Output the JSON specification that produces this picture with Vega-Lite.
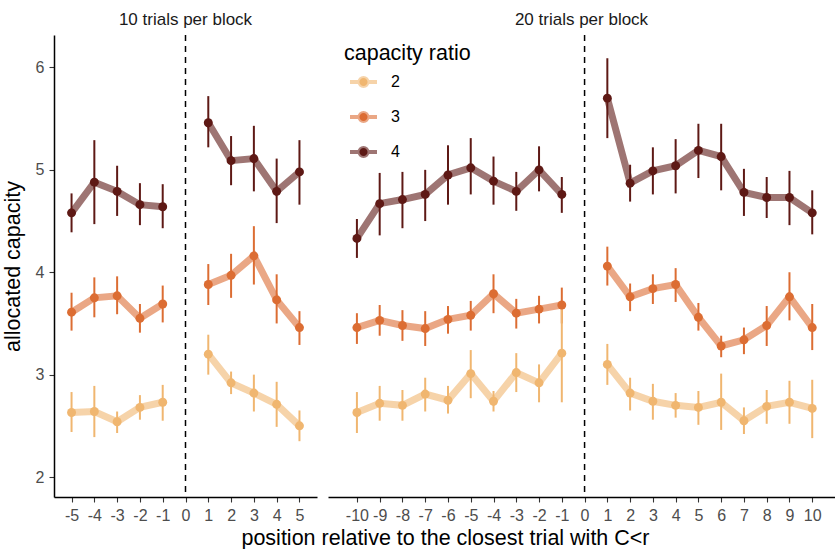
{
  "$schema": "https://vega.github.io/schema/vega-lite/v6.json",
  "padding": {"left": 2, "top": 11, "right": 0, "bottom": 0},
  "bounds": "flush",
  "spacing": 11,
  "background": "white",
  "config": {
    "view": {"stroke": null},
    "font": "Liberation Sans",
    "axis": {"domainColor": "black", "domainWidth": 1.5, "tickColor": "#333333", "tickWidth": 1.1, "tickSize": 5, "labelFontSize": 16, "labelColor": "#4D4D4D", "labelPadding": 5, "grid": false, "titleFontWeight": "normal", "titleColor": "black", "titleFontSize": 21.5, "labelOverlap": false, "labelFlush": false, "labelExpr": "'' + datum.value"},
    "title": {"fontSize": 17, "fontWeight": "normal", "color": "#1A1A1A", "offset": 5, "anchor": "middle"}
  },
  "resolve": {"legend": {"color": "independent"}},
  "datasets": {
    "p10": [
      {"x": -5, "r": "4", "s": "a", "m": 4.58, "lo": 4.39, "hi": 4.77},
      {"x": -4, "r": "4", "s": "a", "m": 4.88, "lo": 4.47, "hi": 5.29},
      {"x": -3, "r": "4", "s": "a", "m": 4.79, "lo": 4.55, "hi": 5.04},
      {"x": -2, "r": "4", "s": "a", "m": 4.66, "lo": 4.46, "hi": 4.87},
      {"x": -1, "r": "4", "s": "a", "m": 4.64, "lo": 4.43, "hi": 4.86},
      {"x": 1, "r": "4", "s": "b", "m": 5.46, "lo": 5.22, "hi": 5.72},
      {"x": 2, "r": "4", "s": "b", "m": 5.09, "lo": 4.85, "hi": 5.33},
      {"x": 3, "r": "4", "s": "b", "m": 5.11, "lo": 4.79, "hi": 5.43},
      {"x": 4, "r": "4", "s": "b", "m": 4.79, "lo": 4.48, "hi": 5.11},
      {"x": 5, "r": "4", "s": "b", "m": 4.98, "lo": 4.66, "hi": 5.29},
      {"x": -5, "r": "3", "s": "a", "m": 3.61, "lo": 3.43, "hi": 3.80},
      {"x": -4, "r": "3", "s": "a", "m": 3.75, "lo": 3.56, "hi": 3.95},
      {"x": -3, "r": "3", "s": "a", "m": 3.77, "lo": 3.59, "hi": 3.96},
      {"x": -2, "r": "3", "s": "a", "m": 3.55, "lo": 3.41, "hi": 3.69},
      {"x": -1, "r": "3", "s": "a", "m": 3.69, "lo": 3.51, "hi": 3.87},
      {"x": 1, "r": "3", "s": "b", "m": 3.88, "lo": 3.68, "hi": 4.08},
      {"x": 2, "r": "3", "s": "b", "m": 3.97, "lo": 3.75, "hi": 4.18},
      {"x": 3, "r": "3", "s": "b", "m": 4.16, "lo": 3.88, "hi": 4.45},
      {"x": 4, "r": "3", "s": "b", "m": 3.73, "lo": 3.50, "hi": 3.98},
      {"x": 5, "r": "3", "s": "b", "m": 3.46, "lo": 3.29, "hi": 3.62},
      {"x": -5, "r": "2", "s": "a", "m": 2.63, "lo": 2.44, "hi": 2.83},
      {"x": -4, "r": "2", "s": "a", "m": 2.64, "lo": 2.39, "hi": 2.89},
      {"x": -3, "r": "2", "s": "a", "m": 2.54, "lo": 2.43, "hi": 2.64},
      {"x": -2, "r": "2", "s": "a", "m": 2.68, "lo": 2.56, "hi": 2.80},
      {"x": -1, "r": "2", "s": "a", "m": 2.73, "lo": 2.55, "hi": 2.90},
      {"x": 1, "r": "2", "s": "b", "m": 3.20, "lo": 3.00, "hi": 3.39},
      {"x": 2, "r": "2", "s": "b", "m": 2.92, "lo": 2.81, "hi": 3.03},
      {"x": 3, "r": "2", "s": "b", "m": 2.82, "lo": 2.64, "hi": 3.00},
      {"x": 4, "r": "2", "s": "b", "m": 2.71, "lo": 2.49, "hi": 2.93},
      {"x": 5, "r": "2", "s": "b", "m": 2.50, "lo": 2.35, "hi": 2.65}
    ],
    "p20": [
      {"x": -10, "r": "4", "s": "a", "m": 4.33, "lo": 4.14, "hi": 4.52},
      {"x": -9, "r": "4", "s": "a", "m": 4.67, "lo": 4.36, "hi": 4.97},
      {"x": -8, "r": "4", "s": "a", "m": 4.71, "lo": 4.43, "hi": 4.98},
      {"x": -7, "r": "4", "s": "a", "m": 4.76, "lo": 4.50, "hi": 5.00},
      {"x": -6, "r": "4", "s": "a", "m": 4.95, "lo": 4.66, "hi": 5.24},
      {"x": -5, "r": "4", "s": "a", "m": 5.02, "lo": 4.76, "hi": 5.31},
      {"x": -4, "r": "4", "s": "a", "m": 4.89, "lo": 4.66, "hi": 5.13},
      {"x": -3, "r": "4", "s": "a", "m": 4.79, "lo": 4.60, "hi": 4.98},
      {"x": -2, "r": "4", "s": "a", "m": 5.00, "lo": 4.79, "hi": 5.23},
      {"x": -1, "r": "4", "s": "a", "m": 4.76, "lo": 4.58, "hi": 4.93},
      {"x": 1, "r": "4", "s": "b", "m": 5.70, "lo": 5.31, "hi": 6.09},
      {"x": 2, "r": "4", "s": "b", "m": 4.87, "lo": 4.69, "hi": 5.05},
      {"x": 3, "r": "4", "s": "b", "m": 4.99, "lo": 4.76, "hi": 5.22},
      {"x": 4, "r": "4", "s": "b", "m": 5.04, "lo": 4.77, "hi": 5.30},
      {"x": 5, "r": "4", "s": "b", "m": 5.19, "lo": 4.92, "hi": 5.45},
      {"x": 6, "r": "4", "s": "b", "m": 5.13, "lo": 4.80, "hi": 5.45},
      {"x": 7, "r": "4", "s": "b", "m": 4.78, "lo": 4.55, "hi": 5.01},
      {"x": 8, "r": "4", "s": "b", "m": 4.73, "lo": 4.53, "hi": 4.93},
      {"x": 9, "r": "4", "s": "b", "m": 4.73, "lo": 4.46, "hi": 4.99},
      {"x": 10, "r": "4", "s": "b", "m": 4.58, "lo": 4.37, "hi": 4.80},
      {"x": -10, "r": "3", "s": "a", "m": 3.46, "lo": 3.30, "hi": 3.60},
      {"x": -9, "r": "3", "s": "a", "m": 3.53, "lo": 3.38, "hi": 3.68},
      {"x": -8, "r": "3", "s": "a", "m": 3.48, "lo": 3.33, "hi": 3.63},
      {"x": -7, "r": "3", "s": "a", "m": 3.45, "lo": 3.28, "hi": 3.62},
      {"x": -6, "r": "3", "s": "a", "m": 3.54, "lo": 3.40, "hi": 3.67},
      {"x": -5, "r": "3", "s": "a", "m": 3.58, "lo": 3.43, "hi": 3.72},
      {"x": -4, "r": "3", "s": "a", "m": 3.79, "lo": 3.60, "hi": 3.98},
      {"x": -3, "r": "3", "s": "a", "m": 3.60, "lo": 3.45, "hi": 3.74},
      {"x": -2, "r": "3", "s": "a", "m": 3.64, "lo": 3.50, "hi": 3.77},
      {"x": -1, "r": "3", "s": "a", "m": 3.68, "lo": 3.50, "hi": 3.85},
      {"x": 1, "r": "3", "s": "b", "m": 4.06, "lo": 3.87, "hi": 4.25},
      {"x": 2, "r": "3", "s": "b", "m": 3.76, "lo": 3.62, "hi": 3.89},
      {"x": 3, "r": "3", "s": "b", "m": 3.84, "lo": 3.69, "hi": 3.98},
      {"x": 4, "r": "3", "s": "b", "m": 3.88, "lo": 3.71, "hi": 4.04},
      {"x": 5, "r": "3", "s": "b", "m": 3.56, "lo": 3.43, "hi": 3.70},
      {"x": 6, "r": "3", "s": "b", "m": 3.28, "lo": 3.17, "hi": 3.38},
      {"x": 7, "r": "3", "s": "b", "m": 3.34, "lo": 3.20, "hi": 3.46},
      {"x": 8, "r": "3", "s": "b", "m": 3.48, "lo": 3.28, "hi": 3.67},
      {"x": 9, "r": "3", "s": "b", "m": 3.76, "lo": 3.53, "hi": 4.00},
      {"x": 10, "r": "3", "s": "b", "m": 3.46, "lo": 3.24, "hi": 3.69},
      {"x": -10, "r": "2", "s": "a", "m": 2.63, "lo": 2.43, "hi": 2.83},
      {"x": -9, "r": "2", "s": "a", "m": 2.72, "lo": 2.55, "hi": 2.89},
      {"x": -8, "r": "2", "s": "a", "m": 2.70, "lo": 2.55, "hi": 2.85},
      {"x": -7, "r": "2", "s": "a", "m": 2.81, "lo": 2.64, "hi": 2.97},
      {"x": -6, "r": "2", "s": "a", "m": 2.75, "lo": 2.62, "hi": 2.89},
      {"x": -5, "r": "2", "s": "a", "m": 3.01, "lo": 2.77, "hi": 3.24},
      {"x": -4, "r": "2", "s": "a", "m": 2.74, "lo": 2.64, "hi": 2.84},
      {"x": -3, "r": "2", "s": "a", "m": 3.02, "lo": 2.83, "hi": 3.21},
      {"x": -2, "r": "2", "s": "a", "m": 2.92, "lo": 2.73, "hi": 3.10},
      {"x": -1, "r": "2", "s": "a", "m": 3.21, "lo": 2.73, "hi": 3.65},
      {"x": 1, "r": "2", "s": "b", "m": 3.10, "lo": 2.90, "hi": 3.30},
      {"x": 2, "r": "2", "s": "b", "m": 2.82, "lo": 2.65, "hi": 2.97},
      {"x": 3, "r": "2", "s": "b", "m": 2.74, "lo": 2.56, "hi": 2.91},
      {"x": 4, "r": "2", "s": "b", "m": 2.70, "lo": 2.58, "hi": 2.82},
      {"x": 5, "r": "2", "s": "b", "m": 2.68, "lo": 2.51, "hi": 2.84},
      {"x": 6, "r": "2", "s": "b", "m": 2.73, "lo": 2.46, "hi": 3.01},
      {"x": 7, "r": "2", "s": "b", "m": 2.55, "lo": 2.42, "hi": 2.68},
      {"x": 8, "r": "2", "s": "b", "m": 2.69, "lo": 2.52, "hi": 2.85},
      {"x": 9, "r": "2", "s": "b", "m": 2.73, "lo": 2.52, "hi": 2.94},
      {"x": 10, "r": "2", "s": "b", "m": 2.67, "lo": 2.38, "hi": 2.95}
    ]
  },
  "hconcat": [
    {
      "width": 263,
      "height": 462,
      "title": {"text": "10 trials per block"},
      "layer": [
        {
          "data": {"values": [{"x": 0}]},
          "mark": {"type": "rule", "strokeDash": [6, 5], "strokeWidth": 1.5, "color": "black"},
          "encoding": {
            "x": {"field": "x", "type": "quantitative", "scale": {"domain": [-5.77, 5.77], "nice": false, "zero": false}, "axis": {"values": [-5, -4, -3, -2, -1, 0, 1, 2, 3, 4, 5], "title": null}}
          }
        },
        {
          "data": {"name": "p10"},
          "mark": {"type": "line", "strokeWidth": 7, "opacity": 0.6},
          "encoding": {
            "x": {"field": "x", "type": "quantitative", "scale": {"domain": [-5.77, 5.77], "nice": false, "zero": false}, "axis": {"values": [-5, -4, -3, -2, -1, 0, 1, 2, 3, 4, 5], "title": null}},
            "y": {"field": "m", "type": "quantitative", "scale": {"domain": [1.805, 6.317], "nice": false, "zero": false}, "axis": {"values": [2, 3, 4, 5, 6], "title": "allocated capacity", "titlePadding": 11}},
            "color": {"field": "r", "type": "nominal", "scale": {"domain": ["2", "3", "4"], "range": ["#F0B670", "#DC6D33", "#5E1915"]}, "legend": null},
            "detail": {"field": "s"}
          }
        },
        {
          "data": {"name": "p10"},
          "mark": {"type": "rule", "strokeWidth": 2},
          "encoding": {
            "x": {"field": "x", "type": "quantitative", "scale": {"domain": [-5.77, 5.77], "nice": false, "zero": false}, "axis": {"values": [-5, -4, -3, -2, -1, 0, 1, 2, 3, 4, 5], "title": null}},
            "y": {"field": "lo", "type": "quantitative", "scale": {"domain": [1.805, 6.317], "nice": false, "zero": false}, "axis": {"values": [2, 3, 4, 5, 6], "title": "allocated capacity", "titlePadding": 11}},
            "y2": {"field": "hi"},
            "color": {"field": "r", "type": "nominal", "scale": {"domain": ["2", "3", "4"], "range": ["#F0B670", "#DC6D33", "#5E1915"]}, "legend": null}
          }
        },
        {
          "data": {"name": "p10"},
          "mark": {"type": "point", "filled": true, "opacity": 1, "size": 80},
          "encoding": {
            "x": {"field": "x", "type": "quantitative", "scale": {"domain": [-5.77, 5.77], "nice": false, "zero": false}, "axis": {"values": [-5, -4, -3, -2, -1, 0, 1, 2, 3, 4, 5], "title": null}},
            "y": {"field": "m", "type": "quantitative", "scale": {"domain": [1.805, 6.317], "nice": false, "zero": false}, "axis": {"values": [2, 3, 4, 5, 6], "title": "allocated capacity", "titlePadding": 11}},
            "color": {"field": "r", "type": "nominal", "scale": {"domain": ["2", "3", "4"], "range": ["#F0B670", "#DC6D33", "#5E1915"]}, "legend": null}
          }
        }
      ]
    },
    {
      "width": 507,
      "height": 462,
      "title": {"text": "20 trials per block"},
      "layer": [
        {
          "data": {"values": [{"x": 0}]},
          "mark": {"type": "rule", "strokeDash": [6, 5], "strokeWidth": 1.5, "color": "black"},
          "encoding": {
            "x": {"field": "x", "type": "quantitative", "scale": {"domain": [-11.27, 11.0], "nice": false, "zero": false}, "axis": {"values": [-10, -9, -8, -7, -6, -5, -4, -3, -2, -1, 0, 1, 2, 3, 4, 5, 6, 7, 8, 9, 10], "title": "position relative to the closest trial with C<r", "titleX": 117, "titleY": 41, "titleBaseline": "middle", "titleAlign": "center"}}
          }
        },
        {
          "data": {"name": "p20"},
          "mark": {"type": "line", "strokeWidth": 7, "opacity": 0.6},
          "encoding": {
            "x": {"field": "x", "type": "quantitative", "scale": {"domain": [-11.27, 11.0], "nice": false, "zero": false}, "axis": {"values": [-10, -9, -8, -7, -6, -5, -4, -3, -2, -1, 0, 1, 2, 3, 4, 5, 6, 7, 8, 9, 10], "title": "position relative to the closest trial with C<r", "titleX": 117, "titleY": 41, "titleBaseline": "middle", "titleAlign": "center"}},
            "y": {"field": "m", "type": "quantitative", "scale": {"domain": [1.805, 6.317], "nice": false, "zero": false}, "axis": null},
            "color": {"field": "r", "type": "nominal", "scale": {"domain": ["2", "3", "4"], "range": ["#F0B670", "#DC6D33", "#5E1915"]},
              "legend": {"title": "capacity ratio", "orient": "none", "legendX": 16, "legendY": 8, "padding": 0, "titleFontSize": 21.5, "titleFontWeight": "normal", "titleColor": "black", "titlePadding": 2, "labelFontSize": 16, "labelColor": "black", "labelOffset": 12, "symbolOffset": 4, "symbolType": "M-1,0H1M0.3,0A0.3,0.3,0,1,1,-0.3,0A0.3,0.3,0,1,1,0.3,0", "symbolSize": 729, "symbolStrokeWidth": 4, "rowPadding": 7,
                "encode": {"symbols": {"update": {"fill": {"scale": "color", "field": "value"}, "stroke": {"scale": "color", "field": "value"}, "strokeOpacity": {"value": 0.6}, "fillOpacity": {"value": 1}, "opacity": {"value": 1}}}}}},
            "detail": {"field": "s"}
          }
        },
        {
          "data": {"name": "p20"},
          "mark": {"type": "rule", "strokeWidth": 2},
          "encoding": {
            "x": {"field": "x", "type": "quantitative", "scale": {"domain": [-11.27, 11.0], "nice": false, "zero": false}, "axis": {"values": [-10, -9, -8, -7, -6, -5, -4, -3, -2, -1, 0, 1, 2, 3, 4, 5, 6, 7, 8, 9, 10], "title": "position relative to the closest trial with C<r", "titleX": 117, "titleY": 41, "titleBaseline": "middle", "titleAlign": "center"}},
            "y": {"field": "lo", "type": "quantitative", "scale": {"domain": [1.805, 6.317], "nice": false, "zero": false}, "axis": null},
            "y2": {"field": "hi"},
            "color": {"field": "r", "type": "nominal", "scale": {"domain": ["2", "3", "4"], "range": ["#F0B670", "#DC6D33", "#5E1915"]},
              "legend": {"title": "capacity ratio", "orient": "none", "legendX": 16, "legendY": 8, "padding": 0, "titleFontSize": 21.5, "titleFontWeight": "normal", "titleColor": "black", "titlePadding": 2, "labelFontSize": 16, "labelColor": "black", "labelOffset": 12, "symbolOffset": 4, "symbolType": "M-1,0H1M0.3,0A0.3,0.3,0,1,1,-0.3,0A0.3,0.3,0,1,1,0.3,0", "symbolSize": 729, "symbolStrokeWidth": 4, "rowPadding": 7,
                "encode": {"symbols": {"update": {"fill": {"scale": "color", "field": "value"}, "stroke": {"scale": "color", "field": "value"}, "strokeOpacity": {"value": 0.6}, "fillOpacity": {"value": 1}, "opacity": {"value": 1}}}}}}
          }
        },
        {
          "data": {"name": "p20"},
          "mark": {"type": "point", "filled": true, "opacity": 1, "size": 80},
          "encoding": {
            "x": {"field": "x", "type": "quantitative", "scale": {"domain": [-11.27, 11.0], "nice": false, "zero": false}, "axis": {"values": [-10, -9, -8, -7, -6, -5, -4, -3, -2, -1, 0, 1, 2, 3, 4, 5, 6, 7, 8, 9, 10], "title": "position relative to the closest trial with C<r", "titleX": 117, "titleY": 41, "titleBaseline": "middle", "titleAlign": "center"}},
            "y": {"field": "m", "type": "quantitative", "scale": {"domain": [1.805, 6.317], "nice": false, "zero": false}, "axis": null},
            "color": {"field": "r", "type": "nominal", "scale": {"domain": ["2", "3", "4"], "range": ["#F0B670", "#DC6D33", "#5E1915"]},
              "legend": {"title": "capacity ratio", "orient": "none", "legendX": 16, "legendY": 8, "padding": 0, "titleFontSize": 21.5, "titleFontWeight": "normal", "titleColor": "black", "titlePadding": 2, "labelFontSize": 16, "labelColor": "black", "labelOffset": 12, "symbolOffset": 4, "symbolType": "M-1,0H1M0.3,0A0.3,0.3,0,1,1,-0.3,0A0.3,0.3,0,1,1,0.3,0", "symbolSize": 729, "symbolStrokeWidth": 4, "rowPadding": 7,
                "encode": {"symbols": {"update": {"fill": {"scale": "color", "field": "value"}, "stroke": {"scale": "color", "field": "value"}, "strokeOpacity": {"value": 0.6}, "fillOpacity": {"value": 1}, "opacity": {"value": 1}}}}}}
          }
        }
      ]
    }
  ]
}
